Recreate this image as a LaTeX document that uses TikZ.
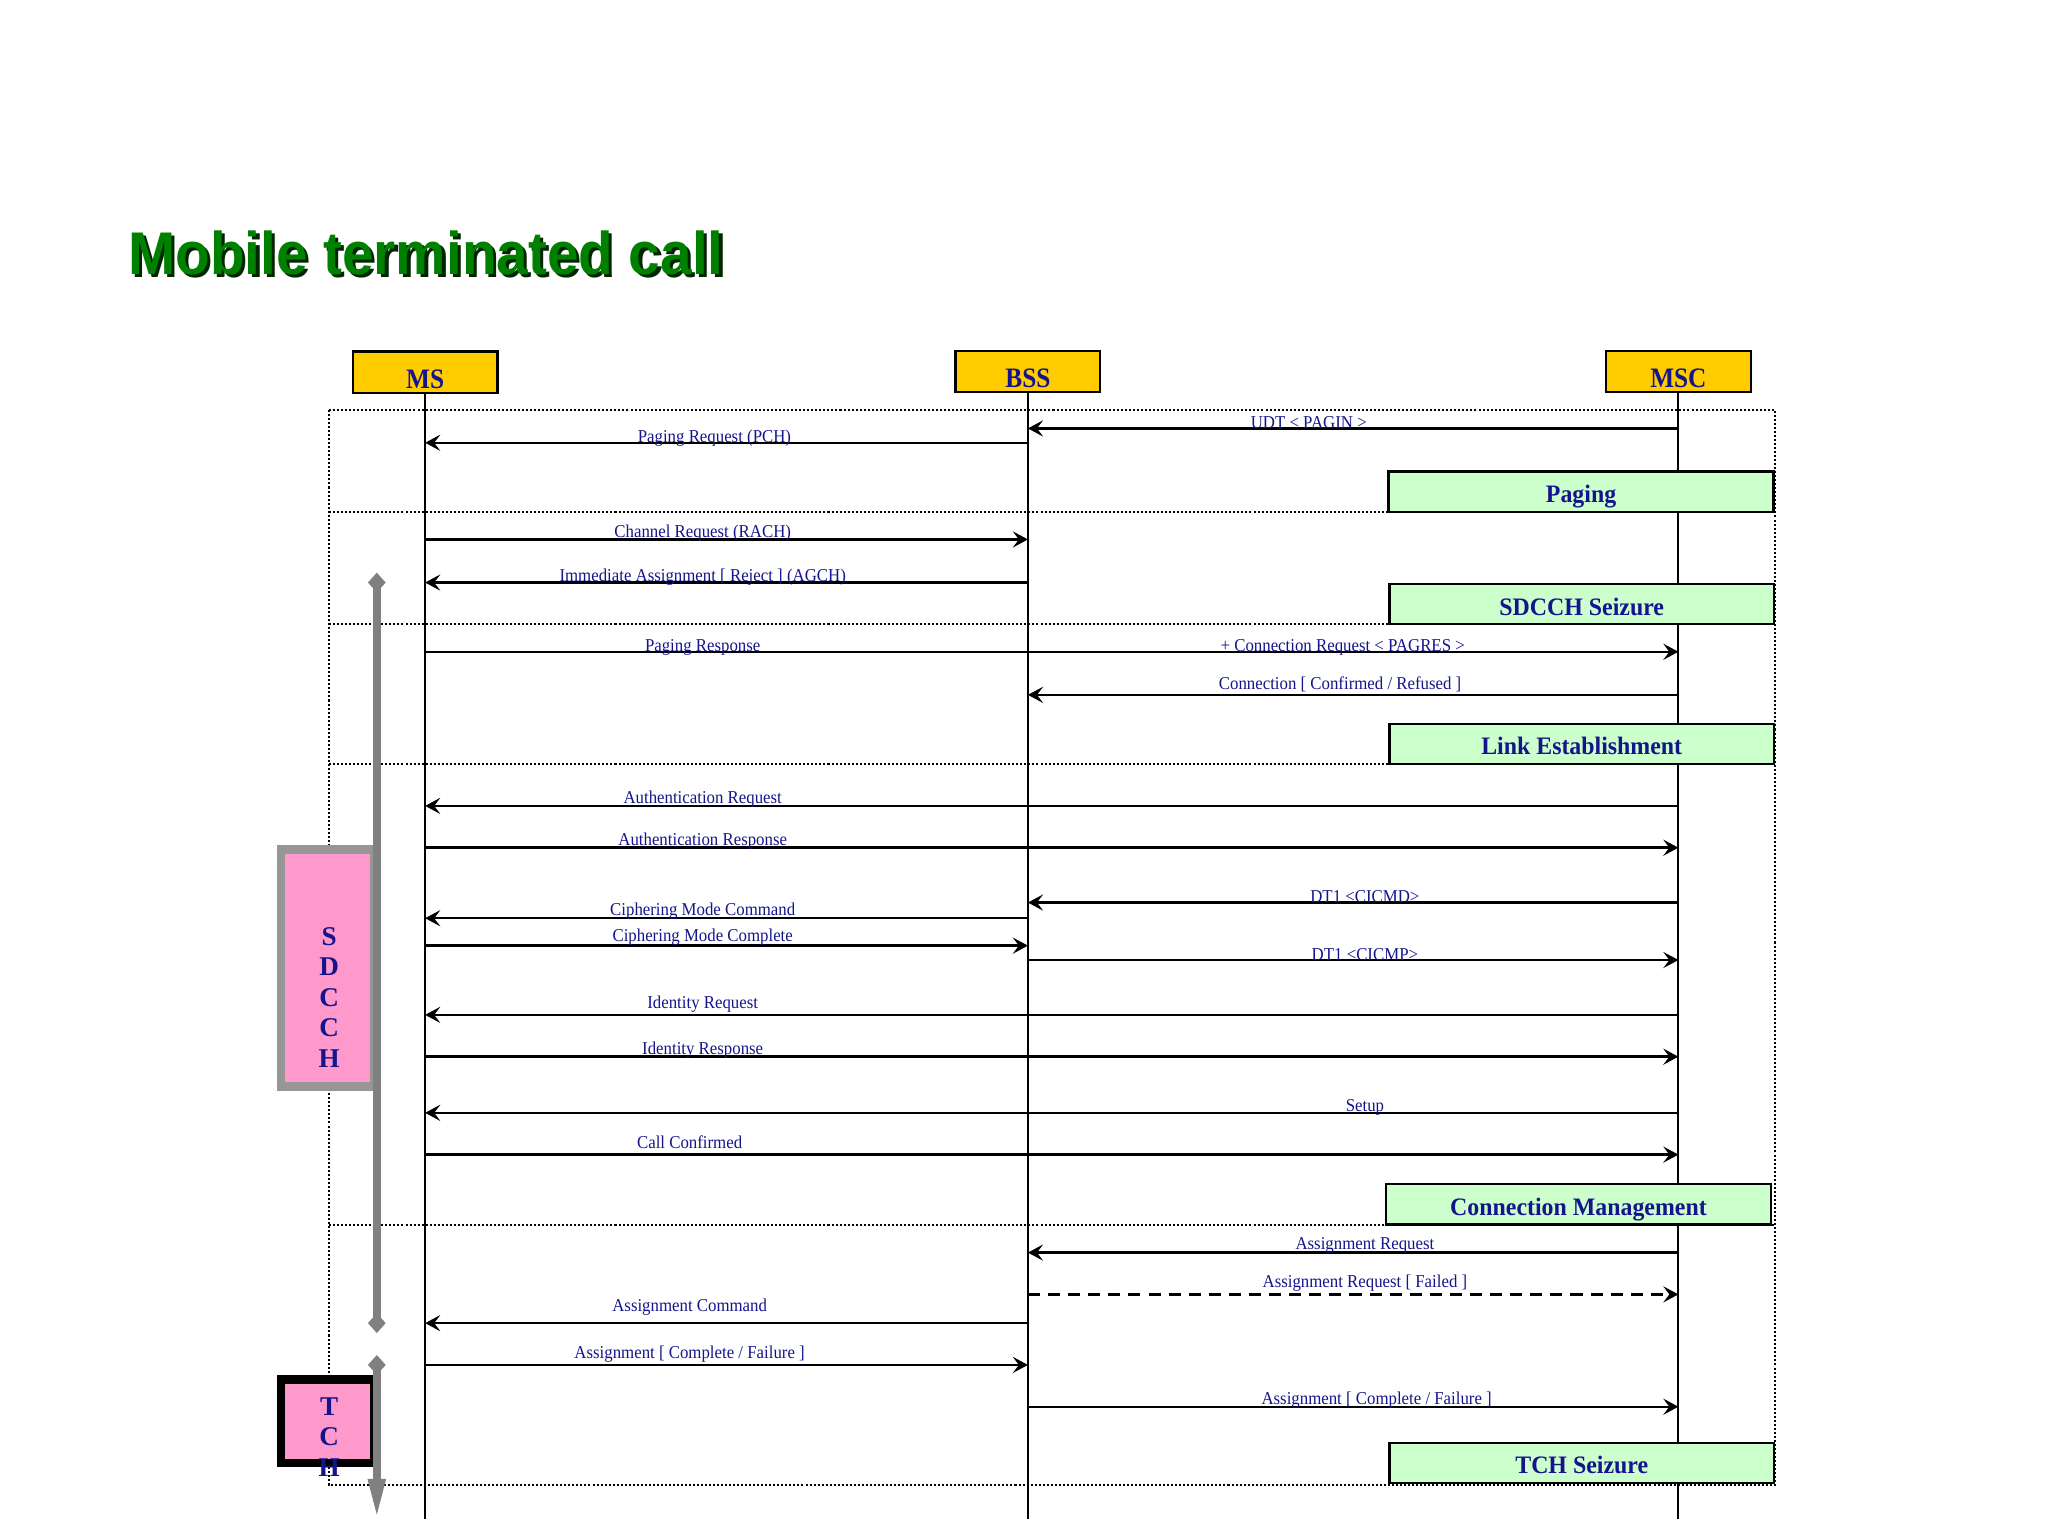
\documentclass[tikz,border=0pt]{standalone}
\usepackage{fontspec}
\setmainfont{Liberation Serif}
\newfontfamily\lblfont[FakeStretch=0.93]{Liberation Serif}
\newfontfamily\hdrfont[FakeStretch=0.9]{Liberation Serif}
\newfontfamily\phfont[FakeStretch=0.95]{Liberation Serif}
\newfontfamily\titlefont[FakeStretch=0.94]{Liberation Sans}
\usetikzlibrary{arrows.meta,shapes.geometric}
\definecolor{navy}{RGB}{20,20,140}
\definecolor{gold}{RGB}{255,204,0}
\definecolor{mint}{RGB}{204,255,204}
\definecolor{pinkbox}{RGB}{255,153,204}
\definecolor{titlegreen}{RGB}{0,128,0}
\definecolor{barGray}{RGB}{128,128,128}
\definecolor{boxGray}{RGB}{150,150,150}
\begin{document}
\begin{tikzpicture}[x=0.65pt,y=-0.65pt,
  msg/.style={line width=1.2pt,-{Stealth[length=7.5pt,width=8pt,inset=3pt]}},
  dmsg/.style={msg,dashed,dash pattern=on 6pt off 4pt},
  lbl/.style={anchor=base,inner sep=0pt,text=navy,font=\lblfont\fontsize{9pt}{10pt}\selectfont},
  life/.style={line width=1pt},
  sep/.style={densely dotted,line width=1pt},
  entity/.style={draw,line width=1.2pt,fill=gold,minimum width=72pt,minimum height=20.5pt,inner sep=0pt,text=navy,text height=16pt,text depth=0pt,font=\hdrfont\bfseries\fontsize{14pt}{16pt}\selectfont},
  phase/.style={draw,line width=1.2pt,fill=mint,minimum width=191.5pt,minimum height=20pt,inner sep=0pt,text=navy,text height=11pt,text depth=0pt,font=\phfont\bfseries\fontsize{12.5pt}{14pt}\selectfont},
  chan/.style={line width=4.2pt,fill=pinkbox,minimum width=46.5pt,inner sep=0pt},
  chanlbl/.style={align=center,text=navy,inner sep=0pt,font=\bfseries\fontsize{13.5pt}{15.2pt}\selectfont},
  bar/.style={line width=3.8pt,draw=barGray},
  diam/.style={diamond,fill=barGray,minimum width=9pt,minimum height=10pt,inner sep=0pt}
]
\useasboundingbox (0,0) rectangle (1568,1176);

% title
\node[anchor=base west,inner sep=0pt,text=black!85!green,font=\titlefont\bfseries\fontsize{30pt}{34pt}\selectfont] (titleshadow) at (100.5,212.5) {Mobile terminated call};
\node[anchor=base west,inner sep=0pt,text=titlegreen,font=\titlefont\bfseries\fontsize{30pt}{34pt}\selectfont] (title) at (98,210) {Mobile terminated call};

% entities
\node[entity] (ms)  at (325.5,285) {MS};
\node[entity] (bss) at (787,284.5) {BSS};
\node[entity] (msc) at (1285,284.5) {MSC};

% frame and separators
\draw[sep] (252,314) rectangle (1359,1137);
\draw[sep] (252,392) -- (1359,392);
\draw[sep] (252,478) -- (1359,478);
\draw[sep] (252,585) -- (1359,585);
\draw[sep] (252,938) -- (1359,938);

% lifelines
\coordinate (msE)  at (ms  |- 0,1163);
\coordinate (bssE) at (bss |- 0,1163);
\coordinate (mscE) at (msc |- 0,1163);
\draw[life] (ms.south) -- (msE);
\draw[life] (bss.south) -- (bssE);
\draw[life] (msc.south) -- (mscE);

% messages
\draw[msg] (msc |- 0,328) -- (bss |- 0,328);
\node[lbl] (l1) at (1002,328) {UDT < PAGIN >};
\draw[msg] (bss |- 0,339) -- (ms |- 0,339);
\node[lbl] (l2) at (547,339) {Paging Request (PCH)};
\draw[msg] (ms |- 0,413) -- (bss |- 0,413);
\node[lbl] (l3) at (538,411.5) {Channel Request (RACH)};
\draw[msg] (bss |- 0,446) -- (ms |- 0,446);
\node[lbl] (l4) at (538,445.5) {Immediate Assignment [ Reject ] (AGCH)};
\draw[msg] (ms |- 0,499) -- (msc |- 0,499);
\node[lbl] (l5) at (538,499) {Paging Response};
\node[lbl] (l6) at (1028,499) {+ Connection Request < PAGRES >};
\draw[msg] (msc |- 0,532) -- (bss |- 0,532);
\node[lbl] (l7) at (1026,528) {Connection [ Confirmed / Refused ]};
\draw[msg] (msc |- 0,617) -- (ms |- 0,617);
\node[lbl] (l8) at (538,615) {Authentication Request};
\draw[msg] (ms |- 0,649) -- (msc |- 0,649);
\node[lbl] (l9) at (538,647) {Authentication Response};
\draw[msg] (msc |- 0,691) -- (bss |- 0,691);
\node[lbl] (l10) at (1045,691) {DT1 <CICMD>};
\draw[msg] (bss |- 0,703) -- (ms |- 0,703);
\node[lbl] (l11) at (538,701) {Ciphering Mode Command};
\draw[msg] (ms |- 0,724) -- (bss |- 0,724);
\node[lbl] (l12) at (538,721) {Ciphering Mode Complete};
\draw[msg] (bss |- 0,735) -- (msc |- 0,735);
\node[lbl] (l13) at (1045,735) {DT1 <CICMP>};
\draw[msg] (msc |- 0,777) -- (ms |- 0,777);
\node[lbl] (l14) at (538,772) {Identity Request};
\draw[msg] (ms |- 0,809) -- (msc |- 0,809);
\node[lbl] (l15) at (538,807) {Identity Response};
\draw[msg] (msc |- 0,852) -- (ms |- 0,852);
\node[lbl] (l16) at (1045,851) {Setup};
\draw[msg] (ms |- 0,884) -- (msc |- 0,884);
\node[lbl] (l17) at (528,879) {Call Confirmed};
\draw[msg] (msc |- 0,959) -- (bss |- 0,959);
\node[lbl] (l18) at (1045,957) {Assignment Request};
\draw[dmsg] (bss |- 0,991) -- (msc |- 0,991);
\node[lbl] (l19) at (1045,986) {Assignment Request [ Failed ]};
\draw[msg] (bss |- 0,1013) -- (ms |- 0,1013);
\node[lbl] (l20) at (528,1004) {Assignment Command};
\draw[msg] (ms |- 0,1045) -- (bss |- 0,1045);
\node[lbl] (l21) at (528,1040) {Assignment [ Complete / Failure ]};
\draw[msg] (bss |- 0,1077) -- (msc |- 0,1077);
\node[lbl] (l22) at (1054,1075) {Assignment [ Complete / Failure ]};

% phase boxes
\node[phase] (p1) at (1210.5,376.5) {Paging};
\node[phase] (p2) at (1211,462.5) {SDCCH Seizure};
\node[phase] (p3) at (1211,569.5) {Link Establishment};
\node[phase] (p4) at (1208.5,922) {Connection Management};
\node[phase] (p5) at (1211,1120) {TCH Seizure};

% channel boxes
\node[chan,draw=boxGray,minimum height=118pt] (sdcch) at (251,741) {};
\node[chanlbl] (sdcchtxt) at (252,763.5) {S\\D\\C\\C\\H};
\node[chan,draw=black,minimum height=41.6pt] (tch) at (251,1088.25) {};
\node[chanlbl] (tchtxt) at (252,1100) {T\\C\\H};

% gray bars
\node[diam] (d1) at (288.5,446) {};
\node[diam] (d2) at (288.5,1013) {};
\node[diam] (d3) at (288.5,1045) {};
\coordinate (b1s) at (288.5,450);
\coordinate (b1e) at (288.5,1009);
\coordinate (b2s) at (288.5,1049);
\coordinate (barend) at (288.5,1163);
\draw[bar] (b1s) -- (b1e);
\draw[bar,-{Triangle[width=8pt,length=20pt]}] (b2s) -- (barend);
\end{tikzpicture}
\end{document}
